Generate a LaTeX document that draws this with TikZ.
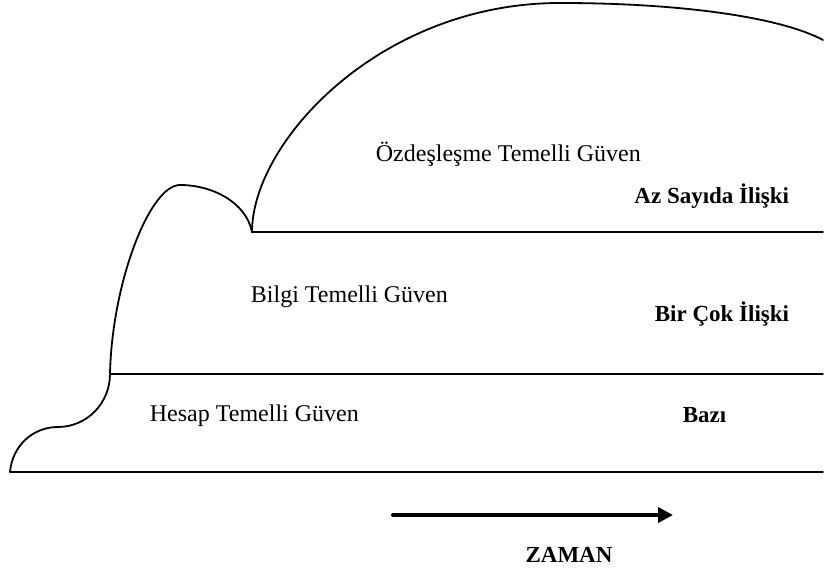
\documentclass[tikz,border=0pt]{standalone}
\usepackage{fontspec}
\setmainfont{Liberation Serif}
\usetikzlibrary{arrows.meta}
\begin{document}
\begin{tikzpicture}[x=0.5pt, y=0.5pt, line width=0.9pt, line join=round, line cap=round,
	metin/.style={inner sep=0pt, font=\fontsize{12}{14}\selectfont},
	etiket/.style={inner sep=0pt, font=\fontsize{11.5}{14}\selectfont\bfseries}]
	\def\xl{10} \def\xr{823} \def\ya{100} \def\yb{198} \def\yc{340}
	\useasboundingbox (0,0) rectangle (825,572);
	% katmanlar
	\draw (\xl,\ya) -- (\xr,\ya);
	\draw (110,\yb) -- (\xr,\yb);
	\draw (252,\yc) -- (\xr,\yc);
	% egriler
	\draw (\xl,\ya) to[out=85,in=180] (58,145) to[out=0,in=270] (110,\yb);
	\draw (110,\yb) .. controls (112,290) and (150,387) .. (180,387)
		.. controls (212,387) and (246,370) .. (252,\yc);
	\draw (252,\yc) .. controls (252,430) and (380,569) .. (560,569)
		.. controls (680,569) and (780,555) .. (\xr,532);
	% yazilar
	\node[metin, anchor=base west] (ozd) at (375,410) {Özdeşleşme Temelli Güven};
	\node[metin, anchor=base west] (bil) at (250,269) {Bilgi Temelli Güven};
	\node[metin, anchor=base west] (hes) at (149,150) {Hesap Temelli Güven};
	\node[etiket, anchor=base east] (az) at (790,368) {Az Sayıda İlişki};
	\node[etiket, anchor=base east] (cok) at (790,250) {Bir Çok İlişki};
	\node[etiket, anchor=base west] (baz) at (682,149) {Bazı};
	% zaman oku
	\coordinate (zs) at (393,57);
	\coordinate (ze) at (673,57);
	\draw[line width=2pt, -{Triangle[length=7.5pt,width=7.5pt]}] (zs) -- (ze);
	\node[etiket, anchor=base] (zam) at (569,9) {ZAMAN};
\end{tikzpicture}
\end{document}
